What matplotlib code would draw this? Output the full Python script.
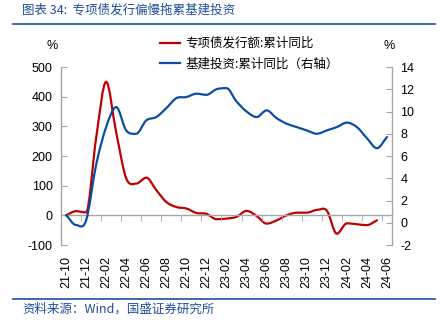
import numpy as np
import matplotlib.pyplot as plt
from matplotlib.path import Path
from matplotlib.patches import PathPatch
from matplotlib.lines import Line2D
from matplotlib.ticker import FixedLocator

plt.rcParams['font.family'] = ['Noto Sans CJK SC', 'DejaVu Sans']

# data
#_____________
months = ['21-10', '21-11', '21-12', '22-01', '22-02', '22-03', '22-04', '22-05',
          '22-06', '22-07', '22-08', '22-09', '22-10', '22-11', '22-12', '23-01',
          '23-02', '23-03', '23-04', '23-05', '23-06', '23-07', '23-08', '23-09',
          '23-10', '23-11', '23-12', '24-01', '24-02', '24-03', '24-04', '24-05',
          '24-06']
bond_issue = [0, 14, 10, 260, 450, 280, 125, 107, 127, 85, 45, 28, 23, 8, 5, -13,
              -11, -5, 15, -2, -28, -17, 0, 9, 9, 18, 16, -62, -27, -30, -33, -17]
infra_inv = [0.7, -0.2, 0.2, 5.2, 8.6, 10.4, 8.3, 8.0, 9.2, 9.5, 10.3, 11.2, 11.3,
             11.6, 11.5, 12.0, 12.1, 10.9, 10.0, 9.5, 10.1, 9.4, 8.9, 8.6, 8.3,
             8.0, 8.3, 8.6, 9.0, 8.6, 7.6, 6.7, 7.7]
red_name = '专项债发行额:累计同比'
blue_name = '基建投资:累计同比（右轴）'
#_____________

RED = '#c00000'
BLUE = '#0a4ea2'
GREY = '#a6a6a6'
NAVY = '#1f4e9c'


def smooth_path(y):
    # smoothed line: cubic bezier through every point, flat at turning points
    y = np.asarray(y, dtype=float)
    n = len(y)
    x = np.arange(n, dtype=float)
    slope = np.zeros(n)
    for i in range(n):
        a, b = max(i - 1, 0), min(i + 1, n - 1)
        if 0 < i < n - 1 and (y[i] - y[a]) * (y[b] - y[i]) <= 0:
            slope[i] = 0
        else:
            slope[i] = (y[b] - y[a]) / (b - a)
    verts = [(x[0], y[0])]
    codes = [Path.MOVETO]
    for i in range(n - 1):
        verts += [(x[i] + 1 / 3, y[i] + slope[i] / 3),
                  (x[i + 1] - 1 / 3, y[i + 1] - slope[i + 1] / 3),
                  (x[i + 1], y[i + 1])]
        codes += [Path.CURVE4] * 3
    return Path(verts, codes)


fig = plt.figure(figsize=(4.4, 3.31), dpi=100)
ax = fig.add_axes([61 / 440, 1 - 245 / 331, 331 / 440, 178 / 331])
ax2 = ax.twinx()

ax.add_patch(PathPatch(smooth_path(bond_issue), fill=False, edgecolor=RED,
                       lw=1.6, capstyle='round'))
ax2.add_patch(PathPatch(smooth_path(infra_inv), fill=False, edgecolor=BLUE,
                        lw=1.6, capstyle='round'))

ax.set_xlim(-0.5, len(months) - 0.5)
ax.set_ylim(-100, 500)
ax2.set_ylim(-2, 14)
ax.set_yticks(range(-100, 501, 100))
ax2.set_yticks(range(-2, 15, 2))

tick_font = dict(family='Liberation Sans', size=9)
ax.set_yticklabels([str(v) for v in range(-100, 501, 100)], **tick_font)
ax2.set_yticklabels([str(v) for v in range(-2, 15, 2)], **tick_font)

# x axis sits at zero of the left axis, labels below the plot
ax.spines['bottom'].set_position(('data', 0))
ax.set_xticks(range(0, len(months), 2))
ax.set_xticklabels(months[::2], rotation=90, **tick_font)
ax.xaxis.set_minor_locator(FixedLocator(np.arange(-0.5, len(months) - 0.5, 2)))
ax.tick_params(axis='x', which='major', length=0, pad=29.5)
ax.tick_params(axis='x', which='minor', length=4, direction='out', color=GREY)

for a in (ax, ax2):
    a.spines['top'].set_visible(False)
    for s in a.spines.values():
        s.set_color(GREY)
        s.set_linewidth(1)
ax2.spines['bottom'].set_visible(False)
ax2.spines['left'].set_visible(False)
ax.spines['right'].set_visible(False)
ax.tick_params(axis='y', direction='in', length=4, color=GREY, pad=6)
ax2.tick_params(axis='y', direction='in', length=4, color=GREY, pad=6)

fig.text(52 / 440, 1 - 46 / 331, '%', ha='center', va='center', fontsize=9,
         family='Liberation Sans')
fig.text(389 / 440, 1 - 46 / 331, '%', ha='center', va='center', fontsize=9,
         family='Liberation Sans')

handles = [Line2D([], [], color=RED, lw=1.6), Line2D([], [], color=BLUE, lw=1.6)]
fig.legend(handles, [red_name, blue_name], loc='upper left',
           bbox_to_anchor=(160 / 440, 1 - 37 / 331), frameon=False,
           fontsize=9, handlelength=1.6, handletextpad=0.4, labelspacing=0.6,
           borderpad=0, borderaxespad=0)

# title, rules and source
fig.text(22 / 440, 1 - 10 / 331, '图表 34:  专项债发行偏慢拖累基建投资',
         color=NAVY, fontsize=9, va='center', ha='left', style='italic')
fig.add_artist(Line2D([13 / 440, 435 / 440], [1 - 23.5 / 331] * 2,
                      color='#2e5fa8', lw=1.3))
fig.add_artist(Line2D([13 / 440, 435 / 440], [1 - 299 / 331] * 2,
                      color='#2e5fa8', lw=1.3))
fig.text(22 / 440, 1 - 309 / 331, '资料来源：Wind，国盛证券研究所',
         color=NAVY, fontsize=9, va='center', ha='left', style='italic')

fig.savefig('out.png', dpi=100, facecolor='white')
